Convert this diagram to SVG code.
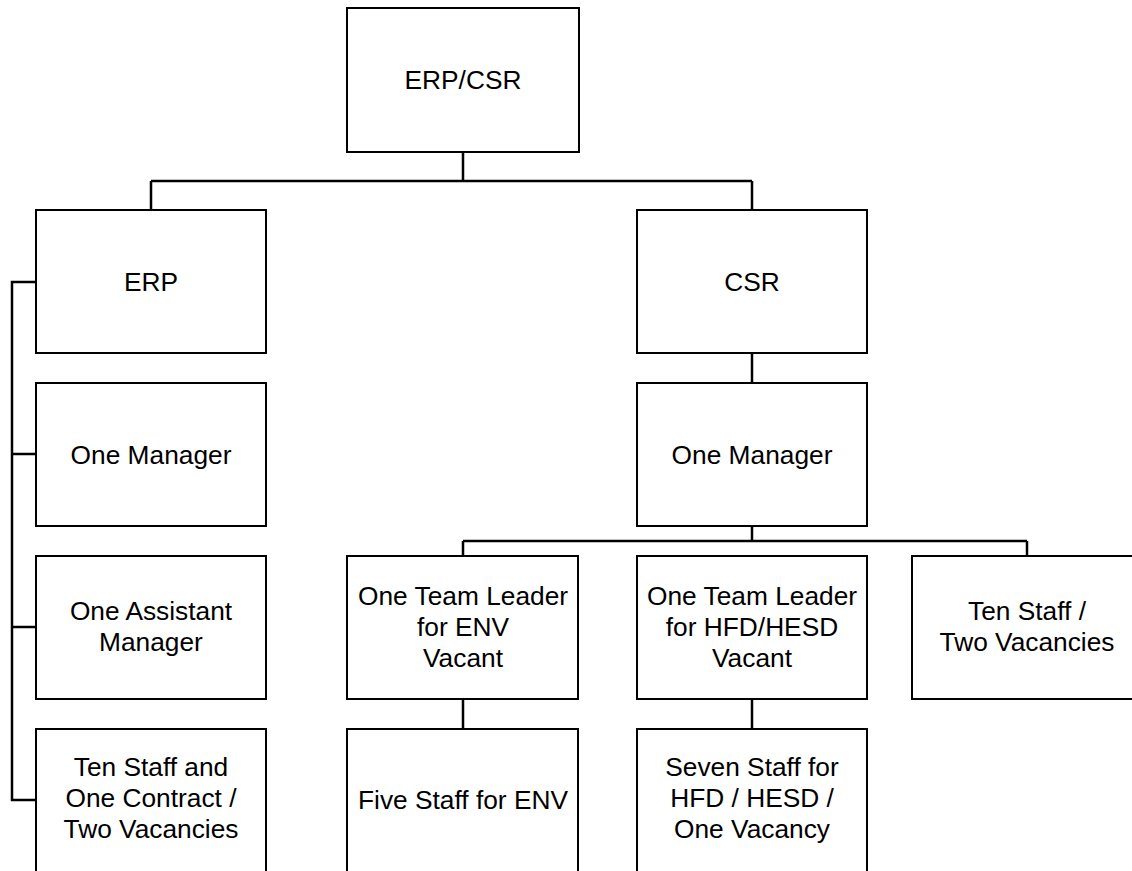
<svg xmlns="http://www.w3.org/2000/svg" width="1132" height="871" viewBox="0 0 1132 871">
  <style>
    .box { fill: #ffffff; stroke: #000000; stroke-width: 2; }
    .lbl { font-family: "Liberation Sans", Arial, sans-serif; font-size: 26.3px; fill: #000000; text-anchor: middle; }
    .wire { fill: none; stroke: #000000; stroke-width: 2.5; }
  </style>
  <rect width="1132" height="871" fill="#ffffff"/>

  <!-- connectors -->
  <g id="connectors">
    <path class="wire" d="M463 152 V181 M151 181 H752 M151 181 V210 M752 181 V210"/>
    <path class="wire" d="M752 353 V383"/>
    <path class="wire" d="M752 526 V541 M463 541 H1027 M463 541 V556 M1027 541 V556"/>
    <path class="wire" d="M463 699 V729 M752 699 V729"/>
    <path class="wire" d="M36 282 H12 V800 H36 M12 454 H36 M12 627 H36"/>
  </g>

  <g id="erp-csr">
    <rect class="box" x="347" y="8" width="232" height="144"/>
    <text class="lbl" x="463" y="89">ERP/CSR</text>
  </g>

  <g id="erp">
    <rect class="box" x="36" y="210" width="230" height="143"/>
    <text class="lbl" x="151" y="291">ERP</text>
  </g>

  <g id="erp-manager">
    <rect class="box" x="36" y="383" width="230" height="143"/>
    <text class="lbl" x="151" y="464">One Manager</text>
  </g>

  <g id="erp-assistant">
    <rect class="box" x="36" y="556" width="230" height="143"/>
    <text class="lbl" x="151" y="620">One Assistant</text>
    <text class="lbl" x="151" y="651">Manager</text>
  </g>

  <g id="erp-staff">
    <rect class="box" x="36" y="729" width="230" height="143"/>
    <text class="lbl" x="151" y="776">Ten Staff and</text>
    <text class="lbl" x="151" y="807">One Contract /</text>
    <text class="lbl" x="151" y="838">Two Vacancies</text>
  </g>

  <g id="csr">
    <rect class="box" x="637" y="210" width="230" height="143"/>
    <text class="lbl" x="752" y="291">CSR</text>
  </g>

  <g id="csr-manager">
    <rect class="box" x="637" y="383" width="230" height="143"/>
    <text class="lbl" x="752" y="464">One Manager</text>
  </g>

  <g id="env-leader">
    <rect class="box" x="347" y="556" width="231" height="143"/>
    <text class="lbl" x="463" y="605">One Team Leader</text>
    <text class="lbl" x="463" y="636">for ENV</text>
    <text class="lbl" x="463" y="667">Vacant</text>
  </g>

  <g id="hfd-leader">
    <rect class="box" x="637" y="556" width="230" height="143"/>
    <text class="lbl" x="752" y="605">One Team Leader</text>
    <text class="lbl" x="752" y="636">for HFD/HESD</text>
    <text class="lbl" x="752" y="667">Vacant</text>
  </g>

  <g id="csr-staff">
    <rect class="box" x="912" y="556" width="230" height="143"/>
    <text class="lbl" x="1027" y="620">Ten Staff /</text>
    <text class="lbl" x="1027" y="651">Two Vacancies</text>
  </g>

  <g id="env-staff">
    <rect class="box" x="347" y="729" width="231" height="143"/>
    <text class="lbl" x="463" y="809">Five Staff for ENV</text>
  </g>

  <g id="hfd-staff">
    <rect class="box" x="637" y="729" width="230" height="143"/>
    <text class="lbl" x="752" y="776">Seven Staff for</text>
    <text class="lbl" x="752" y="807">HFD / HESD /</text>
    <text class="lbl" x="752" y="838">One Vacancy</text>
  </g>
</svg>
